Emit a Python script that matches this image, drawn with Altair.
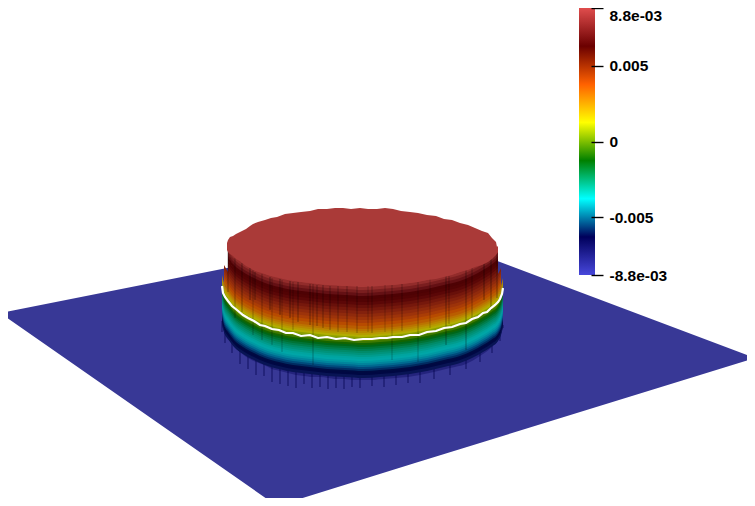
import altair as alt
import pandas as pd

# --- flat sheet (pixel-like model coordinates of the projected surface)
plane_x = [8, 277, 415, 755]
plane_top = [311.4, 258, 230, 358]
plane_bottom = [318.6, 506, 463, 358]

# --- value-zero contour around the cylinder wall
wall_x = [222, 224, 228, 234, 243, 254, 265, 279, 293, 310, 327, 345, 363, 380, 393, 410, 427, 444, 460, 472, 483, 491, 498, 501, 503]
wall_y = [285, 293, 300, 308, 315, 321, 326, 330, 333, 335, 337, 338, 339, 338, 337, 335, 332, 328, 324, 319, 313, 308, 302, 296, 288]
line_x = [222, 223, 225, 228, 232, 237, 243, 248, 254, 260, 265, 272, 279, 286, 293, 301, 310, 318, 327, 336, 345, 354, 363, 372, 380, 387, 393, 402, 410, 419, 427, 436, 444, 452, 460, 466, 472, 478, 483, 487, 491, 495, 498, 500, 502, 503]
line_y = [286, 293, 297, 301, 306, 310, 315, 318, 321, 325, 326, 329, 330, 333, 333, 336, 335, 338, 337, 339, 338, 340, 339, 339, 338, 338, 337, 337, 335, 335, 332, 331, 328, 327, 324, 323, 319, 317, 313, 312, 308, 305, 302, 299, 294, 288]

# --- colour bands down the wall: height offset from the contour and field value (×1e-3)
band_off = [-56, -52, -49, -46, -43, -40, -37, -34, -31, -28, -25, -22, -19, -16, -13, -10, -8, -6, -4, -2, 0, 2, 4, 6, 8, 10, 12, 14, 16, 18, 20, 22, 24, 26, 28, 30, 32, 34, 36]
band_val = [8.8, 8.2, 7.6, 7.0, 6.4, 6.1, 5.9, 5.6, 5.3, 5.0, 4.7, 4.4, 4.1, 3.7, 3.3, 2.8, 2.3, 1.8, 1.3, 0.7, 0.2, -0.5, -1.1, -1.5, -1.9, -2.3, -2.7, -3.0, -3.3, -3.6, -3.8, -4.0, -4.3, -4.7, -5.2, -5.7, -6.2, -6.5, -7.0]

# --- flat top of the cylinder
top_x = [227, 228, 230, 233, 236, 240, 242, 246, 250, 253, 258, 265, 271, 277, 285, 293, 301, 310, 318, 327, 335, 343, 351, 360, 368, 377, 385, 393, 401, 410, 418, 427, 436, 444, 452, 460, 468, 475, 482, 488, 492, 496, 498]
top_up = [243, 240, 237, 236, 234, 232, 231, 229, 226, 224, 222, 220, 218, 217, 214, 213, 212, 211, 209, 209, 208, 208, 209, 208, 209, 209, 208, 209, 211, 212, 213, 215, 216, 219, 220, 223, 225, 228, 231, 233, 238, 242, 252]
top_lo = [250, 252, 254, 256, 259, 261, 263, 266, 268, 270, 272, 274, 276, 277, 279, 280, 282, 283, 284, 285, 285, 286, 285, 285, 286, 286, 285, 285, 284, 283, 282, 280, 279, 277, 275, 272, 270, 267, 265, 262, 259, 255, 252]

# --- vertical dark streaks on the wall
streak_x = [228, 235, 242, 250, 253, 255, 262, 270, 272, 280, 282, 290, 293, 298, 310, 313, 317, 323, 330, 338, 347, 357, 368, 372, 385, 392, 402, 418, 430, 446, 449, 466, 472, 484, 491, 497]
streak_y1 = [250, 258, 263, 268, 270, 272, 274, 277, 278, 279, 280, 281, 282, 282, 284, 284, 285, 285, 286, 286, 286, 286, 286, 285, 285, 285, 284, 282, 279, 276, 276, 270, 268, 262, 258, 252]
streak_y2 = [292, 318, 312, 300, 335, 300, 340, 310, 345, 315, 352, 318, 330, 322, 325, 365, 326, 328, 330, 332, 332, 333, 332, 333, 332, 360, 331, 362, 328, 345, 324, 350, 318, 300, 310, 298]
streak_op = [0.18, 0.14, 0.18, 0.2, 0.12, 0.18, 0.14, 0.2, 0.12, 0.2, 0.12, 0.2, 0.12, 0.18, 0.18, 0.14, 0.16, 0.16, 0.16, 0.14, 0.14, 0.14, 0.1, 0.14, 0.1, 0.12, 0.14, 0.12, 0.1, 0.18, 0.14, 0.18, 0.14, 0.2, 0.2, 0.18]

# --- dark fringe at the foot of the wall
fringe_x = [222, 225, 232, 240, 248, 256, 264, 272, 280, 288, 296, 304, 312, 320, 328, 336, 344, 352, 360, 372, 384, 396, 408, 420, 434, 450, 466, 480, 492, 500, 503]
fringe_y1 = [321, 328, 335, 345, 351, 355, 358, 361, 363, 364, 366, 367, 368, 368, 369, 370, 370, 371, 371, 371, 370, 369, 368, 366, 363, 360, 356, 349, 340, 332, 325]
fringe_y2 = [332, 343, 353, 364, 369, 375, 376, 382, 384, 386, 388, 384, 388, 387, 389, 388, 389, 387, 388, 386, 387, 385, 383, 383, 379, 375, 369, 362, 353, 341, 328]
foot_y2 = [326, 335, 343, 352, 358, 362, 365, 369, 371, 373, 375, 376, 377, 377, 378, 379, 379, 380, 380, 380, 379, 378, 377, 375, 372, 368, 364, 356, 347, 337, 327]

# --- colour map and colour bar
stop_val = [-8.8, -6.29, -3.77, -1.26, 1.26, 3.77, 6.29, 8.8]
lit_colors = ["#383896", "#00003c", "#00a8a8", "#006000", "#b0b000", "#b84800", "#4a0000", "#aa3a38"]
bar_colors = ["#4747db", "#00005b", "#00ffff", "#008000", "#ffff00", "#ff6100", "#6b0000", "#e04d4d"]
bar_offset = [0, 1 / 7, 2 / 7, 3 / 7, 4 / 7, 5 / 7, 6 / 7, 1]
tick_values = [-0.0088, -0.005, 0, 0.005, 0.0088]
tick_labels = ["-8.8e-03", "-0.005", "0", "0.005", "8.8e-03"]
bar_left, bar_right = 579, 595

X = alt.Scale(domain=[8, 747], nice=False, zero=False)
Y = alt.Scale(domain=[498, 8], nice=False, zero=False)
xe = alt.X("x:Q", scale=X, axis=None)
ye = alt.Y("y:Q", scale=Y, axis=None)
y2e = alt.Y2("y2:Q")

plane_df = pd.DataFrame({"x": plane_x, "y": plane_top, "y2": plane_bottom})
plane = alt.Chart(plane_df).mark_area(color="#383896", clip=True).encode(x=xe, y=ye, y2=y2e)

foot_df = pd.DataFrame({"x": fringe_x, "y": fringe_y1, "y2": foot_y2})
foot = alt.Chart(foot_df).mark_area(color="#000050", opacity=0.35, interpolate="monotone").encode(x=xe, y=ye, y2=y2e)

teeth_df = pd.DataFrame({"x": fringe_x, "y": fringe_y1, "y2": fringe_y2})
teeth = alt.Chart(teeth_df).mark_rule(color="#00004a", strokeWidth=2, opacity=0.35).encode(x=xe, y=ye, y2=y2e)

rows = []
for k, (off, val) in enumerate(zip(band_off, band_val)):
    nxt = band_off[k + 1] if k + 1 < len(band_off) else off + 2
    for wx, wy in zip(wall_x, wall_y):
        if off < -10 and wx in (wall_x[0], wall_x[-1]):
            continue
        if off < -28 and (wx < 226 or wx > 500):
            continue
        rows.append({"x": wx, "y": wy + off, "y2": wy + nxt + 1, "level": k, "v": val})
bands_df = pd.DataFrame(rows)
bands = alt.Chart(bands_df).mark_area(interpolate="monotone").encode(
    x=xe, y=ye, y2=y2e, detail="level:O",
    color=alt.Color("v:Q", scale=alt.Scale(domain=stop_val, range=lit_colors), legend=None),
)

streak_df = pd.DataFrame({"x": streak_x, "y": streak_y1, "y2": streak_y2, "o": streak_op})
streaks = alt.Chart(streak_df).mark_rule(color="#000000", strokeWidth=2).encode(
    x=xe, y=ye, y2=y2e, opacity=alt.Opacity("o:Q", scale=None, legend=None)
)

top_df = pd.DataFrame({"x": top_x, "y": top_up, "y2": top_lo})
top = alt.Chart(top_df).mark_area(color="#aa3a38").encode(x=xe, y=ye, y2=y2e)

contour_df = pd.DataFrame({"x": line_x, "y": line_y})
contour = alt.Chart(contour_df).mark_line(color="#ffffff", strokeWidth=2.2).encode(x=xe, y=ye)

bar_df = pd.DataFrame({"x": [bar_left], "x2": [bar_right], "lo": [tick_values[0]], "hi": [tick_values[-1]]})
label_expr = " : ".join(f"datum.value == {v} ? '{t}'" for v, t in zip(tick_values, tick_labels)) + " : ''"
bar = alt.Chart(bar_df).mark_rect(
    color=alt.Gradient(
        gradient="linear",
        stops=[alt.GradientStop(offset=o, color=c) for o, c in zip(bar_offset, bar_colors)],
        x1=0, x2=0, y1=1, y2=0,
    )
).encode(
    x=xe,
    x2="x2:Q",
    y=alt.Y(
        "lo:Q",
        scale=alt.Scale(domain=[tick_values[0], tick_values[-1]], range=[267, 0], nice=False, zero=False),
        axis=alt.Axis(
            orient="right", offset=-156, title=None, domain=False, grid=False, zindex=1,
            values=tick_values, labelExpr=label_expr,
            tickSize=12, tickWidth=1.4, tickColor="#000000",
            labelPadding=6, labelFont="Liberation Sans", labelFontWeight="bold",
            labelFontSize=15.5, labelColor="#000000",
            labelBaseline={"condition": {"test": "datum.value > 0.008", "value": "top"}, "value": "middle"},
        ),
    ),
    y2="hi:Q",
)

chart = (
    alt.layer(plane, foot, teeth, bands, streaks, top, contour, bar)
    .resolve_scale(y="independent")
    .properties(width=739, height=490, padding=0, autosize=alt.AutoSizeParams(type="none"))
    .configure_view(stroke=None)
)
chart.save("out.html", embed_options={"renderer": "svg", "actions": False})
